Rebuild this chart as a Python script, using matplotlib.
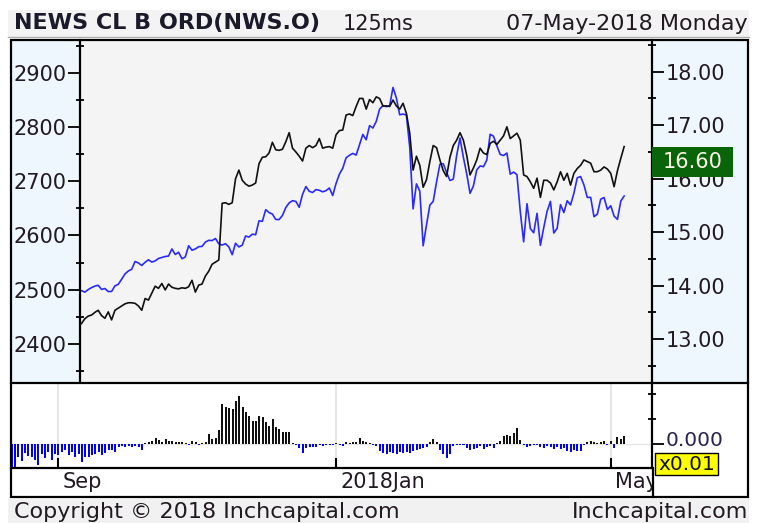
import matplotlib
matplotlib.use("Agg")
import numpy as np
import pandas as pd
import matplotlib.pyplot as plt
from matplotlib.patches import Rectangle
from matplotlib.lines import Line2D

# trading days shown on the chart
market_holidays = ["2017-09-04", "2017-11-23", "2017-12-25", "2018-01-01",
                   "2018-01-15", "2018-02-19", "2018-03-30"]
first_day = "2017-08-14"
last_day = "2018-05-07"
line_start = "2017-09-12"

# index (left axis, blue) from 2017-09-12
index_close = [
    2496.48, 2498.37, 2495.62, 2500.23, 2503.87, 2506.65, 2508.24, 2500.60, 2502.22, 2496.66,
    2496.84, 2507.04, 2510.06, 2519.36, 2529.12, 2534.58, 2537.74, 2552.07, 2549.33, 2544.73,
    2550.64, 2555.24, 2550.93, 2553.17, 2557.64, 2559.36, 2561.26, 2562.10, 2575.21, 2564.98,
    2569.13, 2557.15, 2560.40, 2581.07, 2572.83, 2575.26, 2579.36, 2579.85, 2587.84, 2591.13,
    2590.64, 2594.38, 2584.62, 2582.30, 2584.84, 2578.87, 2564.62, 2585.64, 2578.85, 2582.14,
    2599.03, 2597.08, 2602.42, 2601.42, 2627.04, 2626.07, 2647.58, 2642.22, 2639.44, 2629.57,
    2629.27, 2636.98, 2651.50, 2659.99, 2664.11, 2662.85, 2652.01, 2675.81, 2690.16, 2681.47,
    2679.25, 2684.57, 2683.34, 2680.50, 2682.62, 2687.54, 2673.61, 2695.81, 2713.06, 2723.99,
    2743.15, 2747.71, 2751.29, 2748.23, 2767.56, 2786.24, 2776.42, 2802.56, 2798.03, 2810.30,
    2832.97, 2839.13, 2837.54, 2839.25, 2872.87, 2853.53, 2822.43, 2823.81, 2821.98, 2762.13,
    2648.94, 2695.14, 2681.66, 2581.00, 2619.55, 2656.00, 2662.94, 2698.63, 2731.20, 2732.22,
    2716.26, 2701.33, 2703.96, 2747.30, 2779.60, 2744.28, 2713.83, 2677.67, 2691.25, 2720.94,
    2728.12, 2726.80, 2738.97, 2786.57, 2783.02, 2765.31, 2749.48, 2747.33, 2752.01, 2712.92,
    2716.94, 2711.93, 2643.69, 2588.26, 2658.55, 2612.62, 2605.00, 2640.87, 2581.88, 2614.45,
    2644.69, 2662.84, 2604.47, 2613.16, 2656.87, 2642.19, 2663.99, 2656.30, 2677.84, 2706.39,
    2708.64, 2693.13, 2670.14, 2670.29, 2634.56, 2639.40, 2666.94, 2669.91, 2648.05, 2654.80,
    2635.67, 2629.73, 2663.42, 2672.63,
]

# NWS price (right axis, black) from 2017-09-12
price = [
    13.25, 13.29, 13.38, 13.43, 13.45, 13.50, 13.54, 13.44, 13.39, 13.51,
    13.36, 13.54, 13.58, 13.62, 13.66, 13.68, 13.68, 13.67, 13.62, 13.54,
    13.76, 13.73, 13.86, 13.99, 13.95, 14.04, 13.92, 14.03, 13.97, 13.95,
    13.94, 13.96, 13.95, 13.98, 14.10, 13.88, 14.01, 14.03, 14.18, 14.27,
    14.40, 14.44, 14.48, 15.54, 15.55, 15.52, 15.55, 16.00, 16.16, 15.97,
    15.90, 15.86, 15.88, 15.92, 16.28, 16.40, 16.41, 16.48, 16.68, 16.54,
    16.53, 16.55, 16.69, 16.86, 16.57, 16.50, 16.42, 16.33, 16.57, 16.62,
    16.58, 16.62, 16.75, 16.57, 16.59, 16.60, 16.57, 16.82, 16.90, 16.91,
    17.19, 17.21, 17.18, 17.35, 17.50, 17.50, 17.30, 17.48, 17.42, 17.53,
    17.50, 17.36, 17.36, 17.35, 17.47, 17.36, 17.30, 17.41, 17.22, 16.85,
    16.16, 16.42, 16.25, 15.84, 15.98, 16.32, 16.62, 16.58, 16.35, 16.15,
    16.04, 16.40, 16.62, 16.72, 16.86, 16.72, 16.44, 16.07, 16.20, 16.35,
    16.57, 16.48, 16.45, 16.66, 16.70, 16.64, 16.72, 16.80, 16.97, 16.75,
    16.80, 16.85, 16.72, 16.07, 16.04, 15.94, 15.82, 16.01, 15.65, 15.97,
    15.97, 15.92, 15.79, 15.94, 16.13, 15.97, 16.10, 15.88, 16.10, 16.19,
    16.25, 16.35, 16.32, 16.29, 16.13, 16.13, 16.16, 16.22, 16.18, 16.10,
    15.85, 16.15, 16.38, 16.60,
]

# lower panel oscillator from 2017-08-14
osc = [
    -2.4, -2.4, -1.3, -1.7, -0.9, -1.2, -1.3, -1.6, -2.1, -1.0,
    -1.4, -0.8, -1.6, -1.0, -1.1, -0.8, -0.6, -1.1, -0.8, -1.3,
    -1.0, -1.8, -1.3, -1.3, -1.1, -1.0, -0.8, -1.1, -0.9, -0.6,
    -0.6, -0.8, -0.3, -0.2, -0.3, -0.2, -0.3, -0.2, -0.3, -0.6,
    0.1, 0.2, 0.3, 0.6, 0.4, 0.2, 0.5, 0.3, 0.3, 0.2,
    0.2, 0.2, 0.1, -0.1, 0.3, 0.2, -0.1, 0.1, 0.2, 1.0,
    0.5, 0.6, 1.4, 4.0, 3.7, 3.6, 3.5, 4.3, 4.8, 3.7,
    3.2, 2.8, 2.3, 2.3, 2.8, 2.7, 2.2, 1.8, 2.5, 1.7,
    1.5, 1.2, 1.2, 1.2, 0.1, -0.1, -0.4, -0.9, -0.4, -0.3,
    -0.3, -0.3, -0.1, -0.2, -0.1, -0.1, -0.1, 0.1, -0.1, -0.2,
    0.2, 0.1, 0.2, 0.2, 0.6, 0.3, 0.2, 0.1, -0.1, -0.2,
    -0.7, -0.9, -1.0, -0.8, -0.9, -1.0, -0.8, -0.9, -0.8, -0.9,
    -0.7, -0.6, -0.5, -0.4, -0.3, 0.2, 0.5, 0.2, -0.6, -1.0,
    -1.4, -1.0, -0.2, -0.1, -0.1, -0.1, -0.4, -0.6, -0.5, -0.4,
    -0.2, -0.5, -0.3, -0.2, -0.4, 0.1, 0.3, 0.8, 0.9, 0.8,
    1.1, 1.6, 0.4, -0.1, -0.3, -0.2, -0.1, -0.1, -0.3, -0.4,
    -0.2, -0.3, -0.5, -0.3, -0.5, -0.4, -0.7, -0.8, -0.6, -0.7,
    -0.7, -0.1, 0.2, 0.3, 0.2, 0.1, 0.2, 0.3, -0.1, 0.3,
    -0.4, 0.7, 0.5, 0.8,
]

month_starts = ["2017-09-01", "2018-01-02", "2018-05-01"]
month_labels = ["Sep", "2018Jan", "May"]
left_ticks = [2400, 2500, 2600, 2700, 2800, 2900]
right_ticks = [13, 14, 15, 16, 17, 18]

title = "NEWS CL B ORD(NWS.O)"
speed = "125ms"
date_text = "07-May-2018 Monday"
last_price_text = "16.60"
zero_text = "0.000"
scale_text = "x0.01"

W, H = 761, 523
TXT = "#221a22"
STRIP = "#eef6fe"


def box(x0, y0, x1, y1):
    # pixel box (top-left origin) -> figure fraction rect
    return [x0 / W, 1 - y1 / H, (x1 - x0) / W, (y1 - y0) / H]


def fy(y):
    return 1 - y / H


def fx(x):
    return x / W


def rect(x0, y0, x1, y1, **kw):
    fig.add_artist(Rectangle((fx(x0), fy(y1)), (x1 - x0) / W, (y1 - y0) / H,
                             transform=fig.transFigure, **kw))


def hline(x0, x1, y, **kw):
    fig.add_artist(Line2D([fx(x0), fx(x1)], [fy(y), fy(y)], transform=fig.transFigure, **kw))


days = pd.bdate_range(first_day, last_day)
days = days[~days.isin(pd.to_datetime(market_holidays))]
idx = np.arange(len(days))
start = days.searchsorted(pd.Timestamp(line_start))
line_x = idx[start:start + len(price)]
month_idx = [days.searchsorted(pd.Timestamp(d)) for d in month_starts]

# pixel position of day 0 and width of a day
X0, DX = 11.1, 3.35

fig = plt.figure(figsize=(W / 100, H / 100), dpi=100)
fig.patch.set_facecolor("white")

# background bars and strips
rect(8, 10, 749, 36.5, facecolor="#f3f3f3", edgecolor="none", zorder=-2)
rect(8, 499, 749, 523, facecolor="#f1f1f1", edgecolor="none", zorder=-2)
rect(10, 40, 80, 383, facecolor=STRIP, edgecolor="none", zorder=-2)
rect(652, 40, 748, 383, facecolor=STRIP, edgecolor="none", zorder=-2)

# main panel
ax = fig.add_axes(box(80, 40, 652, 383))
ax.set_facecolor("#f4f4f4")
ax.set_xlim((80 - X0) / DX, (652 - X0) / DX)
ax.set_ylim(2328.1, 2960.3)
ax.plot(line_x, index_close, color="#2a2aff", linewidth=1.2)
ax.set_yticks(left_ticks)
ax.set_yticks([t + 50 for t in [2300] + left_ticks], minor=True)
ax.set_xticks([])
ax.tick_params(axis="y", which="major", direction="out", length=8.6, width=1.3,
               pad=1, labelsize=15, labelcolor=TXT)
ax.tick_params(axis="y", which="minor", direction="inout", length=5.8, width=1.3)
for s in ["top", "right", "bottom"]:
    ax.spines[s].set_visible(False)
ax.spines["left"].set_linewidth(1.6)

ax2 = ax.twinx()
ax2.set_ylim(12.18, 18.593)
ax2.plot(line_x, price, color="#111111", linewidth=1.2)
ax2.set_yticks(right_ticks)
ax2.set_yticklabels(["%.2f" % v for v in right_ticks])
ax2.set_yticks([t + 0.5 for t in [12] + right_ticks], minor=True)
ax2.tick_params(axis="y", which="major", direction="out", length=8.6, width=1.3,
                pad=1, labelsize=15, labelcolor=TXT)
ax2.tick_params(axis="y", which="minor", direction="inout", length=5.8, width=1.3)
for s in ["top", "left", "bottom"]:
    ax2.spines[s].set_visible(False)
ax2.spines["right"].set_linewidth(1.6)

# lower panel
axl = fig.add_axes(box(10.5, 383, 652, 468))
axl.set_facecolor("white")
axl.set_xlim((10 - X0) / DX, (652 - X0) / DX)
axl.set_ylim(-2.4, 6.1)
for m in month_idx:
    axl.axvline(m, color="#e2e2e2", linewidth=1.2, zorder=0)
axl.axhline(0, color="#e6e6e6", linewidth=1, zorder=0)
colors = ["#111111" if v >= 0 else "#0000ff" for v in osc]
axl.bar(idx, osc, width=0.6, color=colors, zorder=2)
axl.set_xticks(month_idx)
axl.tick_params(axis="x", direction="in", length=7.2, width=1.5, labelbottom=False)
axl.yaxis.tick_right()
axl.set_yticks([0])
axl.set_yticklabels([""])
axl.set_yticks([2.5, 5.0], minor=True)
axl.tick_params(axis="y", which="major", direction="out", length=8.6, width=1.3)
axl.tick_params(axis="y", which="minor", direction="inout", length=5.8, width=1.3)
axl.spines["left"].set_visible(False)
for s in ["top", "bottom", "right"]:
    axl.spines[s].set_linewidth(1.6)
fig.text(fx(666), fy(440.5), zero_text, ha="left", va="center", fontsize=14.5,
         color="#2a2250")

# month labels
for m, lab in zip(month_idx, month_labels):
    axl.annotate(lab, xy=(m, fy(482)), xycoords=("data", "figure fraction"),
                 xytext=(3, 0), textcoords="offset points", ha="left", va="center",
                 fontsize=15, color=TXT, annotation_clip=False)

# cover the part of the last month label that runs past the axis
rect(653.5, 469, 747, 496, facecolor="white", edgecolor="none", zorder=4.5)

# frame and separators
rect(10.5, 40, 748, 497, facecolor="none", edgecolor="black", linewidth=1.6, zorder=5)
hline(652, 748, 383, color="black", linewidth=1.6, zorder=5)
fig.add_artist(Line2D([fx(652.5), fx(652.5)], [fy(468), fy(497)], transform=fig.transFigure,
                      color="black", linewidth=1.6, zorder=5))
hline(8, 749, 37, color="#b0b0b0", linewidth=1, zorder=5)

# last price and scale boxes
rect(652, 147, 733, 177, facecolor="#0a650a", edgecolor="none", zorder=6)
fig.text(fx(692.5), fy(162), last_price_text, ha="center", va="center", fontsize=15,
         color="#fbfbe8", zorder=7)
rect(655, 452.5, 718, 474.5, facecolor="#ffff00", edgecolor="black", linewidth=1, zorder=6)
fig.text(fx(686.5), fy(464), scale_text, ha="center", va="center", fontsize=14.5,
         color="#111111", zorder=7)

# header and footer
fig.text(fx(14), fy(23.5), title, ha="left", va="center", fontsize=16,
         fontweight="bold", color="#1a1a2a")
fig.text(fx(343), fy(23.5), speed, ha="left", va="center", fontsize=15, color=TXT)
fig.text(fx(748), fy(23.5), date_text, ha="right", va="center", fontsize=16, color=TXT)
fig.text(fx(14), fy(512), "Copyright \u00a9 2018 Inchcapital.com", ha="left", va="center",
         fontsize=16, color=TXT)
fig.text(fx(748), fy(512), "Inchcapital.com", ha="right", va="center", fontsize=16, color=TXT)

fig.savefig("out.png", dpi=100)
